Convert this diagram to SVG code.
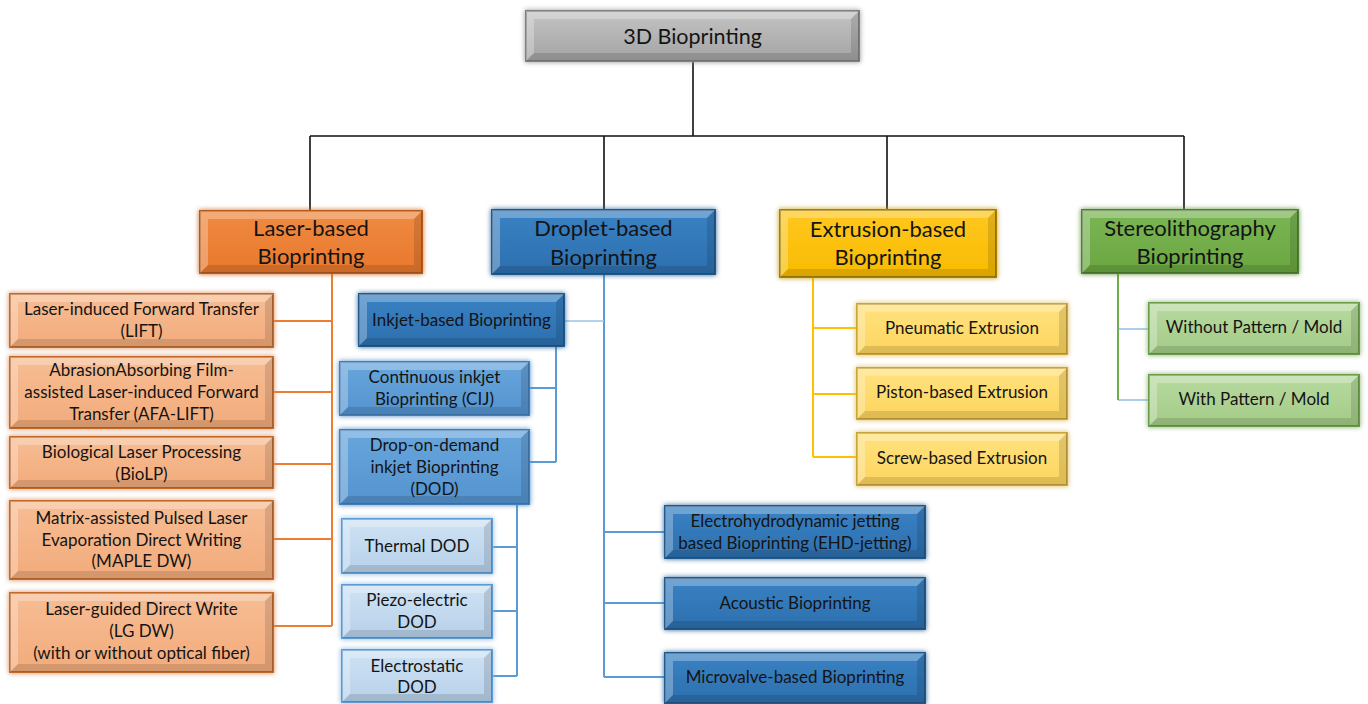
<svg xmlns="http://www.w3.org/2000/svg" width="1368" height="704" viewBox="0 0 1368 704">
<defs>
<filter id="glow" x="-10%" y="-25%" width="120%" height="150%">
<feGaussianBlur in="SourceGraphic" stdDeviation="2.5" result="b"/>
<feMerge><feMergeNode in="b"/><feMergeNode in="SourceGraphic"/></feMerge>
</filter>
<linearGradient id="gGray" x1="0" y1="0" x2="0" y2="1"><stop offset="0" stop-color="#c4c4c4"/><stop offset="1" stop-color="#a3a3a3"/></linearGradient>
<linearGradient id="gOrange" x1="0" y1="0" x2="0" y2="1"><stop offset="0" stop-color="#f08a42"/><stop offset="1" stop-color="#e8782c"/></linearGradient>
<linearGradient id="gPeach" x1="0" y1="0" x2="0" y2="1"><stop offset="0" stop-color="#f7bd94"/><stop offset="1" stop-color="#f2ab7b"/></linearGradient>
<linearGradient id="gDark" x1="0" y1="0" x2="0" y2="1"><stop offset="0" stop-color="#3a82c4"/><stop offset="1" stop-color="#2c6fae"/></linearGradient>
<linearGradient id="gMid" x1="0" y1="0" x2="0" y2="1"><stop offset="0" stop-color="#68a6dc"/><stop offset="1" stop-color="#5493cf"/></linearGradient>
<linearGradient id="gLight" x1="0" y1="0" x2="0" y2="1"><stop offset="0" stop-color="#cfe2f3"/><stop offset="1" stop-color="#b7d1ea"/></linearGradient>
<linearGradient id="gYellow" x1="0" y1="0" x2="0" y2="1"><stop offset="0" stop-color="#ffc820"/><stop offset="1" stop-color="#f8bb00"/></linearGradient>
<linearGradient id="gLYellow" x1="0" y1="0" x2="0" y2="1"><stop offset="0" stop-color="#ffe27e"/><stop offset="1" stop-color="#fdd55e"/></linearGradient>
<linearGradient id="gGreen" x1="0" y1="0" x2="0" y2="1"><stop offset="0" stop-color="#7bb655"/><stop offset="1" stop-color="#6aa640"/></linearGradient>
<linearGradient id="gLGreen" x1="0" y1="0" x2="0" y2="1"><stop offset="0" stop-color="#b8daa0"/><stop offset="1" stop-color="#a3cb86"/></linearGradient>
<style>
text{font-family:Lato,"Liberation Sans",sans-serif;fill:#141414;text-anchor:middle}
.t1{font-size:22px}
.t2{font-size:17px}
rect{stroke-width:2;filter:url(#glow)}
.lt{fill:#fff;opacity:0.28}
.dk{fill:#000;opacity:0.12}
.gray{fill:url(#gGray);stroke:#808080}
.orange{fill:url(#gOrange);stroke:#b65a1b}
.peach{fill:url(#gPeach);stroke:#c26a2c}
.dark{fill:url(#gDark);stroke:#24588a}
.mid{fill:url(#gMid);stroke:#3f7fbc}
.light{fill:url(#gLight);stroke:#5b9bd5}
.yellow{fill:url(#gYellow);stroke:#a88000}
.lyellow{fill:url(#gLYellow);stroke:#c9a43a}
.green{fill:url(#gGreen);stroke:#4f7f32}
.lgreen{fill:url(#gLGreen);stroke:#6a9c4a}
.c{fill:none}
.cb{stroke:#111;stroke-width:1.6}
.co{stroke:#ed7d31;stroke-width:2}
.cbl{stroke:#5b9bd5;stroke-width:2}
.cbl2{stroke:#9dc3e6;stroke-width:1.5}
.cy{stroke:#ffc000;stroke-width:2}
.cg{stroke:#70ad47;stroke-width:2}
.cbt{stroke:#5b9bd5;stroke-width:1}
</style>
</defs>
<rect x="0" y="0" width="1368" height="704" fill="#fff" style="filter:none;stroke:none"/>
<g id="connectors" class="c">
<path class="cb" d="M693,61V136M310,136H1184M310,136V211M604,136V210M887,136V210M1184,136V210"/>
<path class="co" d="M332,273V626M273,321H332M273,392H332M273,464H332M273,539H332M273,626H332"/>
<path class="cbl" d="M604,274V677M604,532H665M604,603H665M604,677H665"/>
<path class="cbl2" d="M564,321H604"/>
<path class="cbl" d="M556,346V462M529,388H556M529,462H556"/>
<path class="cbl" d="M517,504V676M492,547H517M492,611H517M492,676H517"/>
<path class="cy" d="M813,277V457M813,328H857M813,394H857M813,457H857"/>
<path class="cg" d="M1118,273V400"/>
<path class="cbt" d="M1118,329H1149M1118,400H1149"/>
</g>
<g id="root" transform="translate(526,11)"><rect class="gray" width="333" height="50"/><path class="lt" d="M0,0H333L325,8H8V42L0,50Z"/><path class="dk" d="M333,0V50H0L8,42H325V8Z"/><text class="t1" x="166.5" y="33" style="font-size:21.5px">3D Bioprinting</text></g>
<g id="laser" transform="translate(200,211)"><rect class="orange" width="222" height="62"/><path class="lt" d="M0,0H222L214,8H8V54L0,62Z"/><path class="dk" d="M222,0V62H0L8,54H214V8Z"/><text class="t1" x="111" y="25">Laser-based</text><text class="t1" x="111" y="53">Bioprinting</text></g>
<g id="droplet" transform="translate(492,210)"><rect class="dark" width="223" height="64"/><path class="lt" d="M0,0H223L215,8H8V56L0,64Z"/><path class="dk" d="M223,0V64H0L8,56H215V8Z"/><text class="t1" x="111.5" y="26">Droplet-based</text><text class="t1" x="111.5" y="55">Bioprinting</text></g>
<g id="extrusion" transform="translate(780,210)"><rect class="yellow" width="216" height="67"/><path class="lt" d="M0,0H216L208,8H8V59L0,67Z"/><path class="dk" d="M216,0V67H0L8,59H208V8Z"/><text class="t1" x="108" y="27">Extrusion-based</text><text class="t1" x="108" y="55">Bioprinting</text></g>
<g id="stereo" transform="translate(1082,210)"><rect class="green" width="216" height="63"/><path class="lt" d="M0,0H216L208,8H8V55L0,63Z"/><path class="dk" d="M216,0V63H0L8,55H208V8Z"/><text class="t1" x="108" y="26">Stereolithography</text><text class="t1" x="108" y="54">Bioprinting</text></g>
<g id="lift" transform="translate(10,294)"><rect class="peach" width="263" height="53"/><path class="lt" d="M0,0H263L255,8H8V45L0,53Z"/><path class="dk" d="M263,0V53H0L8,45H255V8Z"/><text class="t2" x="131.5" y="21">Laser-induced Forward Transfer</text><text class="t2" x="131.5" y="43">(LIFT)</text></g>
<g id="afa-lift" transform="translate(10,357)"><rect class="peach" width="263" height="71"/><path class="lt" d="M0,0H263L255,8H8V63L0,71Z"/><path class="dk" d="M263,0V71H0L8,63H255V8Z"/><text class="t2" x="131.5" y="19">AbrasionAbsorbing Film-</text><text class="t2" x="131.5" y="41">assisted Laser-induced Forward</text><text class="t2" x="131.5" y="63">Transfer (AFA-LIFT)</text></g>
<g id="biolp" transform="translate(10,437)"><rect class="peach" width="263" height="51"/><path class="lt" d="M0,0H263L255,8H8V43L0,51Z"/><path class="dk" d="M263,0V51H0L8,43H255V8Z"/><text class="t2" x="131.5" y="21">Biological Laser Processing</text><text class="t2" x="131.5" y="43">(BioLP)</text></g>
<g id="maple" transform="translate(10,501)"><rect class="peach" width="263" height="78"/><path class="lt" d="M0,0H263L255,8H8V70L0,78Z"/><path class="dk" d="M263,0V78H0L8,70H255V8Z"/><text class="t2" x="131.5" y="23">Matrix-assisted Pulsed Laser</text><text class="t2" x="131.5" y="45">Evaporation Direct Writing</text><text class="t2" x="131.5" y="66">(MAPLE DW)</text></g>
<g id="lgdw" transform="translate(10,593)"><rect class="peach" width="263" height="79"/><path class="lt" d="M0,0H263L255,8H8V71L0,79Z"/><path class="dk" d="M263,0V79H0L8,71H255V8Z"/><text class="t2" x="131.5" y="22">Laser-guided Direct Write</text><text class="t2" x="131.5" y="44">(LG DW)</text><text class="t2" x="131.5" y="66">(with or without optical fiber)</text></g>
<g id="inkjet" transform="translate(359,294)"><rect class="dark" width="205" height="52"/><path class="lt" d="M0,0H205L197,8H8V44L0,52Z"/><path class="dk" d="M205,0V52H0L8,44H197V8Z"/><text class="t2" x="102.5" y="32">Inkjet-based Bioprinting</text></g>
<g id="cij" transform="translate(340,362)"><rect class="mid" width="189" height="53"/><path class="lt" d="M0,0H189L181,8H8V45L0,53Z"/><path class="dk" d="M189,0V53H0L8,45H181V8Z"/><text class="t2" x="94.5" y="21">Continuous inkjet</text><text class="t2" x="94.5" y="43">Bioprinting (CIJ)</text></g>
<g id="dod" transform="translate(340,430)"><rect class="mid" width="189" height="74"/><path class="lt" d="M0,0H189L181,8H8V66L0,74Z"/><path class="dk" d="M189,0V74H0L8,66H181V8Z"/><text class="t2" x="94.5" y="21">Drop-on-demand</text><text class="t2" x="94.5" y="43">inkjet Bioprinting</text><text class="t2" x="94.5" y="65">(DOD)</text></g>
<g id="thermal" transform="translate(342,519)"><rect class="light" width="150" height="54"/><path class="lt" d="M0,0H150L142,8H8V46L0,54Z"/><path class="dk" d="M150,0V54H0L8,46H142V8Z"/><text class="t2" x="75" y="33">Thermal DOD</text></g>
<g id="piezo" transform="translate(342,585)"><rect class="light" width="150" height="53"/><path class="lt" d="M0,0H150L142,8H8V45L0,53Z"/><path class="dk" d="M150,0V53H0L8,45H142V8Z"/><text class="t2" x="75" y="21">Piezo-electric</text><text class="t2" x="75" y="43">DOD</text></g>
<g id="electrostatic" transform="translate(342,650)"><rect class="light" width="150" height="52"/><path class="lt" d="M0,0H150L142,8H8V44L0,52Z"/><path class="dk" d="M150,0V52H0L8,44H142V8Z"/><text class="t2" x="75" y="22">Electrostatic</text><text class="t2" x="75" y="43">DOD</text></g>
<g id="ehd" transform="translate(665,506)"><rect class="dark" width="260" height="52"/><path class="lt" d="M0,0H260L252,8H8V44L0,52Z"/><path class="dk" d="M260,0V52H0L8,44H252V8Z"/><text class="t2" x="130" y="21">Electrohydrodynamic jetting</text><text class="t2" x="130" y="43">based Bioprinting (EHD-jetting)</text></g>
<g id="acoustic" transform="translate(665,578)"><rect class="dark" width="260" height="51"/><path class="lt" d="M0,0H260L252,8H8V43L0,51Z"/><path class="dk" d="M260,0V51H0L8,43H252V8Z"/><text class="t2" x="130" y="31">Acoustic Bioprinting</text></g>
<g id="microvalve" transform="translate(665,653)"><rect class="dark" width="260" height="50"/><path class="lt" d="M0,0H260L252,8H8V42L0,50Z"/><path class="dk" d="M260,0V50H0L8,42H252V8Z"/><text class="t2" x="130" y="30">Microvalve-based Bioprinting</text></g>
<g id="pneumatic" transform="translate(857,304)"><rect class="lyellow" width="210" height="50"/><path class="lt" d="M0,0H210L202,8H8V42L0,50Z"/><path class="dk" d="M210,0V50H0L8,42H202V8Z"/><text class="t2" x="105" y="30">Pneumatic Extrusion</text></g>
<g id="piston" transform="translate(857,368)"><rect class="lyellow" width="210" height="51"/><path class="lt" d="M0,0H210L202,8H8V43L0,51Z"/><path class="dk" d="M210,0V51H0L8,43H202V8Z"/><text class="t2" x="105" y="30">Piston-based Extrusion</text></g>
<g id="screw" transform="translate(857,433)"><rect class="lyellow" width="210" height="52"/><path class="lt" d="M0,0H210L202,8H8V44L0,52Z"/><path class="dk" d="M210,0V52H0L8,44H202V8Z"/><text class="t2" x="105" y="31">Screw-based Extrusion</text></g>
<g id="without-mold" transform="translate(1149,303)"><rect class="lgreen" width="210" height="51"/><path class="lt" d="M0,0H210L202,8H8V43L0,51Z"/><path class="dk" d="M210,0V51H0L8,43H202V8Z"/><text class="t2" x="105" y="30">Without Pattern / Mold</text></g>
<g id="with-mold" transform="translate(1149,375)"><rect class="lgreen" width="210" height="51"/><path class="lt" d="M0,0H210L202,8H8V43L0,51Z"/><path class="dk" d="M210,0V51H0L8,43H202V8Z"/><text class="t2" x="105" y="30">With Pattern / Mold</text></g>
</svg>
